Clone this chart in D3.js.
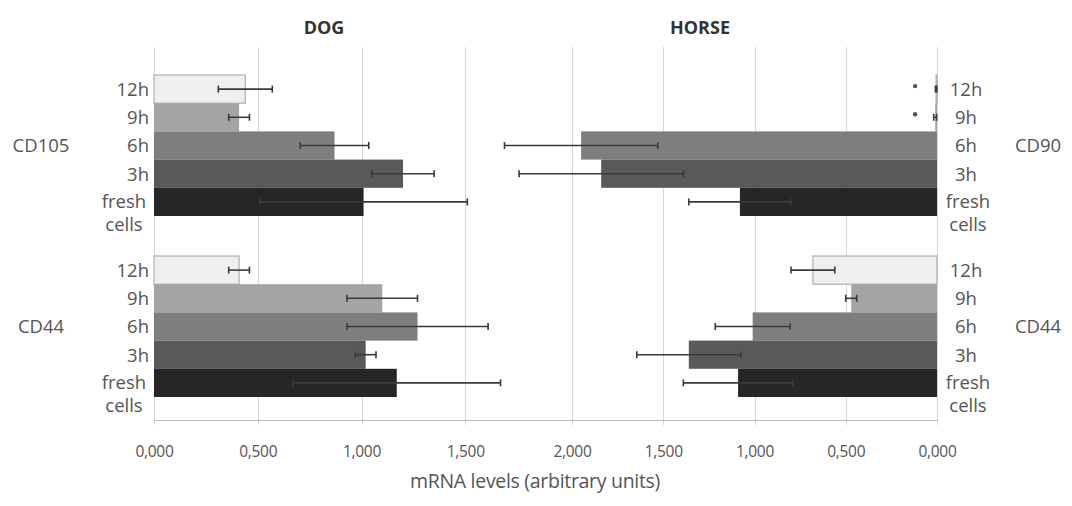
<!DOCTYPE html>
<html>
<head>
<meta charset="utf-8">
<script src="https://cdn.jsdelivr.net/npm/d3@7"></script>
<style>
  html, body { margin: 0; padding: 0; background: #fff; }
  svg { display: block; font-family: "Open Sans", "Liberation Sans", sans-serif; }
</style>
</head>
<body>
<svg id="chart" width="1072" height="506"></svg>
<script>
// Time points (rows within each marker group, top to bottom)
const times = ["12h", "9h", "6h", "3h", "fresh cells"];
const timeColors = ["#efefef", "#a4a4a4", "#7e7e7e", "#595959", "#262626"];

// Dog: mean mRNA levels and error (±)
const dogCD105 = [0.44, 0.41, 0.87, 1.20, 1.01];
const dogCD105Err = [0.13, 0.05, 0.165, 0.15, 0.50];
const dogCD44 = [0.41, 1.10, 1.27, 1.02, 1.17];
const dogCD44Err = [0.05, 0.17, 0.34, 0.05, 0.50];

// Horse: mean mRNA levels and error (±)
const horseCD90 = [0.005, 0.01, 1.95, 1.84, 1.08];
const horseCD90Err = [0.004, 0.008, 0.42, 0.45, 0.28];
const horseCD44 = [0.68, 0.47, 1.01, 1.36, 1.09];
const horseCD44Err = [0.12, 0.03, 0.205, 0.285, 0.30];

// Significance markers (horse CD90)
const horseCD90Sig = ["12h", "9h"];

// Axis ticks
const leftTicks = [0, 0.5, 1.0, 1.5];
const rightTicks = [0, 0.5, 1.0, 1.5, 2.0];
const fmt = v => d3.format(".3f")(v).replace(".", ",");

const svg = d3.select("#chart");
const plotTop = 47, axisY = 420;
const labelColor = "#555";
const labelSize = 18.5;

const xDog = d3.scaleLinear().domain([0, 2]).range([154, 569]);
const xHorse = d3.scaleLinear().domain([0, 2]).range([937, 572]);

const groupY = d3.scaleBand().domain([0, 1]).range([75, 397]).paddingInner(0.221);
const rowY = d3.scaleBand().domain(times).range([0, groupY.bandwidth()]);

// Gridlines
const grid = svg.append("g").attr("stroke", "#d6d6d6").attr("stroke-width", 1);
leftTicks.forEach(t => grid.append("line")
  .attr("x1", Math.round(xDog(t)) + 0.5).attr("x2", Math.round(xDog(t)) + 0.5)
  .attr("y1", plotTop).attr("y2", axisY + 5));
rightTicks.forEach(t => grid.append("line")
  .attr("x1", Math.round(xHorse(t)) + 0.5).attr("x2", Math.round(xHorse(t)) + 0.5)
  .attr("y1", plotTop).attr("y2", axisY + 5));

// Bottom axes
const axDog = d3.axisBottom(xDog).tickValues(leftTicks).tickFormat(fmt).tickSize(0).tickPadding(26);
const axHorse = d3.axisBottom(xHorse).tickValues(rightTicks).tickFormat(fmt).tickSize(0).tickPadding(26);
[axDog, axHorse].forEach(ax => {
  const g = svg.append("g").attr("transform", `translate(0,${axisY})`).call(ax);
  g.select(".domain").remove();
  g.selectAll("text").attr("fill", "#555").attr("font-size", 15.5)
    .style("font-family", "'Open Sans', sans-serif").attr("letter-spacing", -0.3);
});
svg.append("line").attr("x1", 154).attr("x2", 938).attr("y1", axisY + 0.5).attr("y2", axisY + 0.5)
  .attr("stroke", "#bdbdbd");

// Panel drawing
function drawPanel(x, groups, side) {
  groups.forEach((grp, gi) => {
    const g = svg.append("g").attr("transform", `translate(0,${groupY(gi)})`);
    const rows = times.map((t, i) => ({ t, v: grp.values[i], e: grp.errors[i], c: timeColors[i] }));
    g.selectAll("rect").data(rows).join("rect")
      .attr("x", d => Math.min(x(0), x(d.v)))
      .attr("width", d => Math.abs(x(d.v) - x(0)))
      .attr("y", d => rowY(d.t))
      .attr("height", rowY.bandwidth())
      .attr("fill", d => d.c)
      .attr("stroke", d => d.t === "12h" ? "#b0b0b0" : "none")
      .attr("stroke-width", 1.2);
    // error bars
    const eb = g.selectAll("g.err").data(rows).join("g").attr("class", "err")
      .attr("stroke", "#3a3a3a").attr("stroke-width", 1.6);
    eb.append("line")
      .attr("x1", d => x(d.v - d.e)).attr("x2", d => x(d.v + d.e))
      .attr("y1", d => rowY(d.t) + rowY.bandwidth() / 2)
      .attr("y2", d => rowY(d.t) + rowY.bandwidth() / 2);
    [-1, 1].forEach(s => eb.append("line")
      .attr("x1", d => x(d.v + s * d.e)).attr("x2", d => x(d.v + s * d.e))
      .attr("y1", d => rowY(d.t) + rowY.bandwidth() / 2 - 3.5)
      .attr("y2", d => rowY(d.t) + rowY.bandwidth() / 2 + 3.5));
    // significance markers
    (grp.sig || []).forEach(t => {
      g.append("circle").attr("cx", x(0.12)).attr("cy", rowY(t) + rowY.bandwidth() / 2 - 3)
        .attr("r", 2.2).attr("fill", "#555");
    });
    // row labels
    const lab = g.append("g").attr("fill", labelColor).attr("font-size", labelSize);
    times.forEach(t => {
      const cy = rowY(t) + rowY.bandwidth() / 2 + 7;
      if (t === "fresh cells") {
        const cx = side === "left" ? 124 : 968;
        lab.append("text").attr("x", cx).attr("y", cy - 1).attr("text-anchor", "middle").text("fresh");
        lab.append("text").attr("x", cx).attr("y", cy + 22).attr("text-anchor", "middle").text("cells");
      } else if (side === "left") {
        lab.append("text").attr("x", 149).attr("y", cy).attr("text-anchor", "end").text(t);
      } else {
        lab.append("text").attr("x", 966).attr("y", cy).attr("text-anchor", "middle").text(t);
      }
    });
    // marker name
    g.append("text")
      .attr("x", side === "left" ? 41 : 1038)
      .attr("y", rowY("6h") + rowY.bandwidth() / 2 + 7)
      .attr("text-anchor", "middle")
      .attr("fill", labelColor).attr("font-size", labelSize)
      .text(grp.name);
  });
}

drawPanel(xDog, [
  { name: "CD105", values: dogCD105, errors: dogCD105Err },
  { name: "CD44", values: dogCD44, errors: dogCD44Err }
], "left");

drawPanel(xHorse, [
  { name: "CD90", values: horseCD90, errors: horseCD90Err, sig: horseCD90Sig },
  { name: "CD44", values: horseCD44, errors: horseCD44Err }
], "right");

// Panel titles
svg.append("text").attr("x", 324).attr("y", 34).attr("text-anchor", "middle")
  .attr("font-weight", "bold").attr("font-size", 18).attr("fill", "#333").text("DOG");
svg.append("text").attr("x", 700).attr("y", 34).attr("text-anchor", "middle")
  .attr("font-weight", "bold").attr("font-size", 18).attr("fill", "#333").text("HORSE");

// Axis title
svg.append("text").attr("x", 535).attr("y", 488).attr("text-anchor", "middle")
  .attr("font-size", 19.5).attr("letter-spacing", -0.3).attr("fill", "#555")
  .text("mRNA levels (arbitrary units)");
</script>
</body>
</html>
